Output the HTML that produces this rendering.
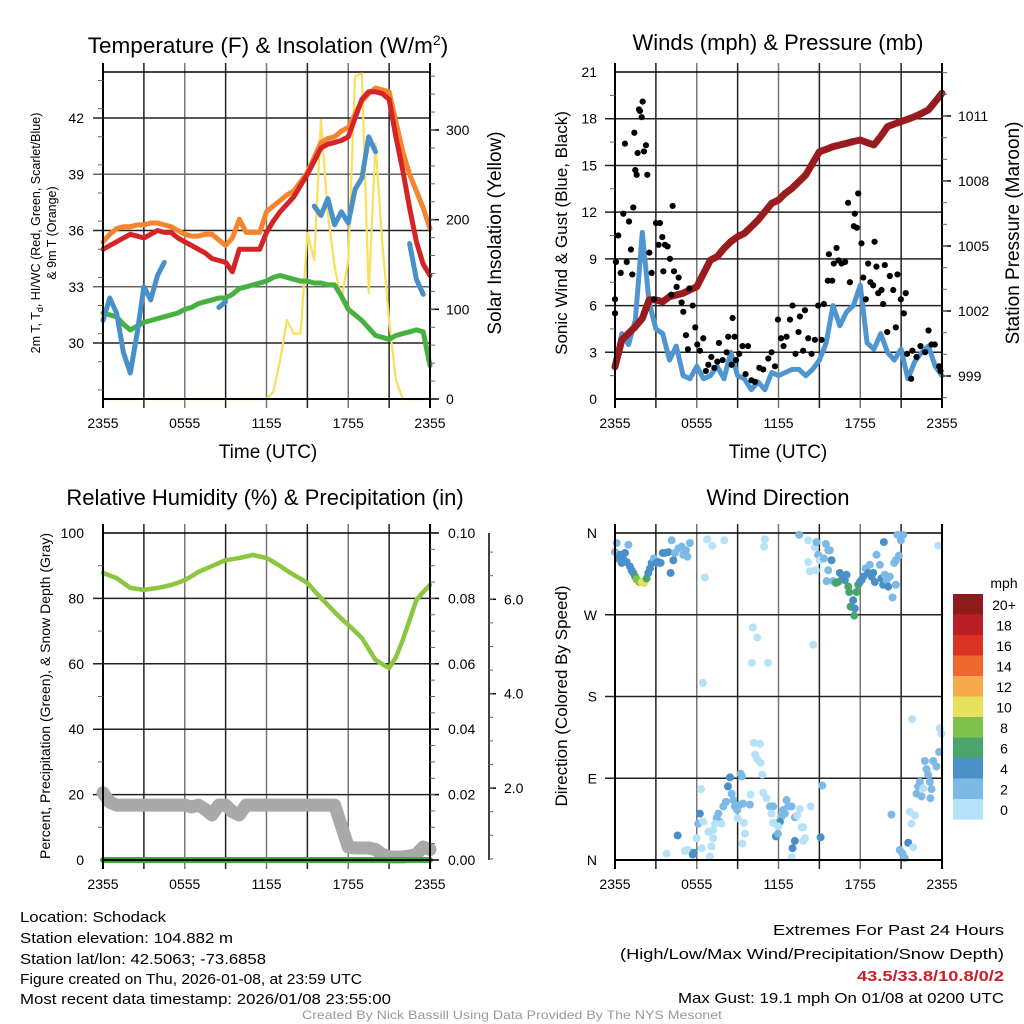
<!DOCTYPE html>
<html><head><meta charset="utf-8"><style>
html,body{margin:0;padding:0;background:#fff}
svg{display:block;font-family:"Liberation Sans",sans-serif}
</style></head><body>
<svg id="c" width="1024" height="1024" viewBox="0 0 1024 1024" xmlns="http://www.w3.org/2000/svg">
<rect width="1024" height="1024" fill="#fff"/>
<g id="grid"></g><g id="marks"></g><g id="axes"></g>
<text x="268" y="53" font-size="22.5" text-anchor="middle">Temperature (F) &amp; Insolation (W/m<tspan dy="-8" font-size="14">2</tspan><tspan dy="8">)</tspan></text>
<text x="778" y="50" font-size="22" text-anchor="middle">Winds (mph) &amp; Pressure (mb)</text>
<text x="265" y="505" font-size="22" text-anchor="middle">Relative Humidity (%) &amp; Precipitation (in)</text>
<text x="778" y="505" font-size="22" text-anchor="middle">Wind Direction</text>
<text x="268" y="458" font-size="19" text-anchor="middle">Time (UTC)</text>
<text x="778" y="458" font-size="19" text-anchor="middle">Time (UTC)</text>
<text transform="translate(40,233) rotate(-90)" font-size="12.5" text-anchor="middle">2m T, T<tspan dy="3" font-size="9">d</tspan><tspan dy="-3">, HI/WC (Red, Green, Scarlet/Blue)</tspan></text>
<text transform="translate(56,233) rotate(-90)" font-size="12.5" text-anchor="middle">&amp; 9m T (Orange)</text>
<text transform="translate(501,233) rotate(-90)" font-size="19" text-anchor="middle">Solar Insolation (Yellow)</text>
<text transform="translate(567,233) rotate(-90)" font-size="17" text-anchor="middle">Sonic Wind &amp; Gust (Blue, Black)</text>
<text transform="translate(1019,233) rotate(-90)" font-size="19" text-anchor="middle">Station Pressure (Maroon)</text>
<text transform="translate(50,696) rotate(-90)" font-size="14" text-anchor="middle">Percent, Precipitation (Green), &amp; Snow Depth (Gray)</text>
<text transform="translate(567,696) rotate(-90)" font-size="17" text-anchor="middle">Direction (Colored By Speed)</text>
<g font-size="15">
<text x="20" y="922" textLength="146" lengthAdjust="spacingAndGlyphs">Location: Schodack</text>
<text x="20" y="943" textLength="213" lengthAdjust="spacingAndGlyphs">Station elevation: 104.882 m</text>
<text x="20" y="964" textLength="246" lengthAdjust="spacingAndGlyphs">Station lat/lon: 42.5063; -73.6858</text>
<text x="20" y="984" textLength="342" lengthAdjust="spacingAndGlyphs">Figure created on Thu, 2026-01-08, at 23:59 UTC</text>
<text x="20" y="1004" textLength="371" lengthAdjust="spacingAndGlyphs">Most recent data timestamp: 2026/01/08 23:55:00</text>
</g>
<g font-size="15">
<text x="773" y="935" textLength="231" lengthAdjust="spacingAndGlyphs">Extremes For Past 24 Hours</text>
<text x="620" y="959" textLength="384" lengthAdjust="spacingAndGlyphs">(High/Low/Max Wind/Precipitation/Snow Depth)</text>
<text x="857" y="981" textLength="147" lengthAdjust="spacingAndGlyphs" fill="#c8202a" font-weight="bold">43.5/33.8/10.8/0/2</text>
<text x="678" y="1003" textLength="326" lengthAdjust="spacingAndGlyphs">Max Gust: 19.1 mph On 01/08 at 0200 UTC</text>
</g>
<text x="302" y="1019" font-size="12" fill="#999" textLength="420" lengthAdjust="spacingAndGlyphs">Created By Nick Bassill Using Data Provided By The NYS Mesonet</text>
<g id="legend"></g>
</svg>
<script>
// ---------- data (half-hourly, t = 0..24 h from 2355 UTC) ----------
const xTickLabels = ["2355","0555","1155","1755","2355"];
const temp2m = [35.0,35.2,35.4,35.6,35.8,35.7,35.6,35.8,36.0,35.9,35.9,35.6,35.4,35.2,35.0,34.8,34.5,34.4,34.3,33.8,35.0,35.0,35.0,35.0,35.9,36.5,37.0,37.4,37.8,38.4,39.0,39.7,40.4,40.6,40.7,40.8,41.0,42.0,43.0,43.4,43.4,43.3,43.0,41.0,39.2,37.2,35.4,34.2,33.6];
const temp9m = [35.4,35.8,36.1,36.2,36.2,36.3,36.3,36.4,36.4,36.3,36.2,36.0,35.8,35.7,35.7,35.8,35.8,35.5,35.2,35.6,36.6,35.9,35.9,35.9,37.0,37.3,37.6,37.9,38.1,38.6,39.1,39.9,40.7,40.9,41.0,41.3,41.5,42.2,42.9,43.3,43.6,43.5,43.4,41.8,40.2,39.0,38.1,37.2,36.1];
const dewpoint = [31.6,31.5,31.4,31.0,30.7,30.9,31.1,31.2,31.3,31.4,31.5,31.6,31.8,31.9,32.1,32.2,32.3,32.4,32.4,32.6,32.9,33.0,33.1,33.2,33.3,33.5,33.6,33.5,33.4,33.3,33.3,33.2,33.2,33.1,33.1,32.5,31.8,31.5,31.2,30.8,30.4,30.3,30.2,30.4,30.5,30.6,30.7,30.6,28.8];
const windChill = [31.2,32.4,31.6,29.5,28.4,30.5,33.0,32.3,33.6,34.3,null,null,null,null,null,null,null,31.9,32.2,null,null,null,null,null,null,null,null,null,null,null,null,37.3,36.8,37.7,36.3,37.0,36.4,38.2,38.8,41.0,40.2,null,null,null,null,35.3,33.4,32.6,null];
const solar = [0,0,0,0,0,0,0,0,0,0,0,0,0,0,0,0,0,0,0,0,0,0,0,0,0,8,43,88,73,73,185,155,311,207,148,110,155,360,363,118,285,174,88,21,0,0,0,0,0];
const windSpeed = [2.1,4.2,3.5,5.1,10.7,6.2,4.5,4.2,2.5,3.4,1.5,1.3,2.1,1.3,1.5,2.1,1.3,3.0,1.5,1.3,0.6,1.1,0.6,1.7,1.5,1.7,1.9,1.9,1.5,1.9,2.5,3.6,6.0,4.7,5.6,6.0,7.3,3.6,3.2,4.2,3.0,2.5,3.2,1.3,2.4,3.0,3.4,2.1,1.5];
const pressure = [999.43,1000.66,1000.97,1001.28,1001.66,1002.51,1002.51,1002.43,1002.66,1002.74,1002.82,1002.97,1003.12,1003.74,1004.35,1004.51,1004.89,1005.2,1005.43,1005.58,1005.89,1006.2,1006.58,1006.97,1007.12,1007.43,1007.66,1007.97,1008.28,1008.82,1009.35,1009.46,1009.58,1009.66,1009.74,1009.82,1009.89,1009.77,1009.66,1010.05,1010.51,1010.63,1010.74,1010.85,1010.97,1011.12,1011.28,1011.66,1012.05];
const gustTimes = [0,0,0.07,0.24,0.42,0.61,0.73,0.86,1.03,1.17,1.27,1.34,1.42,1.49,1.59,1.66,1.76,1.83,1.96,2.03,2.13,2.27,2.37,2.52,2.69,2.86,3.01,3.2,3.3,3.47,3.55,3.67,3.86,4.03,4.13,4.23,4.33,4.52,4.67,4.89,5.01,5.21,5.35,5.45,5.7,5.89,6.04,6.23,6.48,6.67,6.85,7.07,7.29,7.51,7.63,7.9,8.19,8.31,8.56,8.63,8.78,8.88,9.12,9.36,9.58,9.76,10.02,10.27,10.59,10.88,11.25,11.49,11.74,11.96,12.18,12.37,12.59,12.84,13.03,13.25,13.47,13.57,13.81,13.94,14.18,14.43,14.67,14.91,15.16,15.33,15.62,15.7,15.94,16.06,16.26,16.41,16.63,16.89,17.11,17.24,17.53,17.6,17.75,17.85,18.09,18.22,18.41,18.58,18.75,18.95,19.05,19.19,19.32,19.56,19.68,19.8,19.98,20.17,20.42,20.61,20.73,20.98,21.2,21.34,21.44,21.74,21.83,22.13,22.42,22.76,23.01,23.23,23.47,23.79,23.89];
const gustValues = [6.4,5.5,8.8,10.5,8.1,11.9,16.4,8.8,11.4,9.6,8.0,12.3,17.1,14.7,14.4,15.8,18.6,18.5,18.1,19.1,15.9,16.3,14.4,9.4,8.1,6.4,11.3,9.9,11.3,10.4,8.2,9.9,9.8,9.0,6.7,12.4,8.2,7.2,7.8,6.2,5.6,4.1,3.2,7.1,6.0,4.6,3.5,3.1,3.9,1.8,2.2,2.7,2.0,2.4,3.6,2.5,3.0,4.0,2.2,5.2,4.0,2.5,2.9,3.4,1.6,3.4,1.2,1.1,2.0,1.9,2.6,3.0,2.1,5.1,3.9,3.4,4.0,5.1,6.0,2.9,4.3,5.3,3.1,5.7,3.9,2.9,3.8,6.0,3.8,6.1,7.6,9.3,7.6,8.7,9.7,8.9,8.7,8.8,12.6,7.5,11.1,11.9,11.0,13.2,10.0,7.8,6.4,8.7,7.5,7.3,10.1,8.5,6.8,7.0,6.1,8.6,4.3,7.9,7.0,4.6,8.0,6.4,5.5,6.8,2.9,1.3,3.1,2.7,3.4,3.0,4.4,3.5,3.5,2.1,1.8];
const relHumidity = [87.8,87.0,86.2,84.7,83.2,82.9,82.6,82.9,83.2,83.6,84.1,84.8,85.6,86.8,88.1,89.0,89.9,90.8,91.7,92.0,92.4,92.8,93.3,92.8,92.4,91.2,89.9,88.5,87.2,86.0,84.7,82.4,80.1,78.0,75.8,73.8,71.9,69.9,67.9,64.5,61.2,59.9,58.7,62.0,67.3,73.4,79.5,82.0,84.1];
const precip = [0,0,0,0,0,0,0,0,0,0,0,0,0,0,0,0,0,0,0,0,0,0,0,0,0,0,0,0,0,0,0,0,0,0,0,0,0,0,0,0,0,0,0,0,0,0,0,0,0];
const snowDepth = [1.9,1.7,1.64,1.64,1.64,1.64,1.64,1.64,1.64,1.64,1.64,1.64,1.64,1.6,1.64,1.55,1.43,1.64,1.64,1.5,1.43,1.64,1.64,1.64,1.64,1.64,1.64,1.64,1.64,1.64,1.64,1.64,1.64,1.64,1.64,1.2,0.75,0.73,0.73,0.73,0.7,0.6,0.54,0.54,0.54,0.56,0.6,0.75,0.7];
const dirTimes = [0,0.12,0.24,0.37,0.49,0.61,0.73,0.86,0.98,1.1,1.22,1.34,1.47,1.59,1.78,1.96,2.13,2.32,2.44,2.57,2.69,2.86,3.01,3.18,3.35,3.5,3.67,3.91,4.08,4.16,4.28,4.4,4.65,4.89,5.01,5.21,5.31,5.5,6.77,6.6,7.14,8.02,11.0,10.95,13.52,14.18,14.18,14.3,14.67,14.74,14.79,14.91,15.04,15.48,15.65,15.77,15.33,15.89,15.65,15.53,16.01,16.21,16.38,16.5,16.7,16.87,16.99,17.12,17.19,17.29,17.48,17.6,17.56,17.73,17.85,17.97,18.09,18.22,18.39,18.58,18.7,18.83,18.95,19.07,19.19,19.44,19.56,19.68,19.8,19.73,19.93,20.05,20.17,20.37,20.49,20.61,20.61,20.73,20.83,20.98,21.15,23.72,10.12,10.44,10.05,11.22,14.55,6.45,21.81,23.84,23.96,23.79,23.35,23.59,22.74,22.86,22.98,23.11,22.37,22.25,22.13,22.49,23.23,23.15,22.62,21.64,22.01,21.76,20.29,21.52,21.88,20.9,21.1,21.27,10.2,10.64,10.29,10.44,10.68,10.81,9.22,9.32,8.44,8.29,6.31,8.56,8.68,8.8,8.97,9.17,9.41,9.9,9.95,10.88,11.12,11.37,11.61,11.49,7.95,8.14,7.58,7.46,7.7,7.34,7.82,7.21,6.23,6.11,6.48,6.85,9.0,9.46,9.54,12.59,12.71,12.96,13.57,14.35,15.21,12.35,12.23,12.47,12.1,11.98,11.61,11.81,11.96,13.2,13.37,13.81,13.69,13.94,13.81,13.2,13.03,12.96,15.09,4.6,3.79,5.13,5.38,5.79,5.7,5.99,7.21,6.36,7.09,6.97,9.36];
const dirValues = [339,349,332,336,327,331,338,328,347,323,319,316,312,309,306,306,305,310,316,321,327,332,327,328,327,338,338,339,316,352,330,338,343,345,336,341,334,349,353,311,346,352,353,345,358,352,328,318,344,319,350,336,330,348,341,341,332,330,319,307,307,305,306,316,312,308,314,301,295,279,286,277,269,295,303,306,308,312,321,316,325,312,316,306,336,325,310,303,314,350,308,301,312,289,327,330,303,358,335,352,358,346,256,245,217,217,237,195,155,145,139,119,109,103,109,100,94,86,86,81,73,70,78,68,79,53,49,40,50,19,14,11,7,2,129,128,116,111,107,94,95,92,91,81,78,73,66,59,55,61,62,61,72,74,68,59,59,51,59,64,51,46,42,40,40,33,51,40,42,31,46,41,29,66,59,59,56,59,82,55,48,51,42,37,41,26,29,47,49,36,36,24,21,21,13,3,25,27,7,10,11,8,6,24,24,13,15,4,18];
const dirSpeeds = [3,3,5,5,5,5,5,5,3,5,5,5,7,9,9,11,11,7,5,5,5,3,5,5,5,5,5,5,5,3,5,3,3,3,3,3,3,3,1,1,1,1,1,1,3,1,1,1,1,1,3,3,1,3,3,3,3,5,3,3,3,7,7,5,5,5,5,7,7,7,5,5,7,7,7,5,5,5,3,5,3,5,5,5,3,3,5,5,3,5,3,5,3,3,3,3,3,3,3,3,3,1,1,1,1,1,1,1,1,1,1,3,3,3,3,3,3,3,3,3,3,3,3,3,1,1,1,1,3,5,1,3,3,3,1,1,1,1,1,1,3,3,5,5,1,3,3,3,3,3,3,3,1,1,1,3,3,1,3,3,3,3,3,1,1,1,5,3,1,1,1,1,1,3,3,3,1,1,3,3,3,3,5,1,1,5,3,3,1,1,1,1,1,5,5,1,5,5,1,1,1,5,5,1,1,1,1,1,1,1];
const legendLabels = ["20+","18","16","14","12","10","8","6","4","2","0"];
const legendColors = ["#8f1a1c","#bb1f26","#dc3327","#ee6630","#f5a94a","#e6e05a","#7dc24a","#4aa56b","#4a90c8","#7db9e5","#b5e2f8"];

// ---------- geometry ----------
const NS="http://www.w3.org/2000/svg";
const G=document.getElementById('grid'),M=document.getElementById('marks'),A=document.getElementById('axes');
function el(tag,attrs,parent){const e=document.createElementNS(NS,tag);for(const k in attrs)e.setAttribute(k,attrs[k]);(parent||M).appendChild(e);return e;}
const P1={x0:103,x1:430}, P2={x0:615,x1:942};
const xT=(p,t)=>p.x0+(p.x1-p.x0)*t/24;
const yTemp=v=>118+(42-v)*18.75;
const ySolar=v=>399-v*0.8967;
const yWind=v=>399-v*15.57;
const yPres=v=>376-(v-999)*21.67;
const yPct=v=>860-v*3.27;
const yPrecip=v=>860-v*3270;
const ySnow=v=>882.5-v*47.2;
const yDir=v=>860-v/360*327;
const hT=i=>i*0.5;

function series(p,arr,yf,color,w,name){
  let seg=[];const segs=[];
  arr.forEach((v,i)=>{if(v===null){if(seg.length)segs.push(seg);seg=[];}else seg.push(xT(p,hT(i)).toFixed(1)+','+yf(v).toFixed(1));});
  if(seg.length)segs.push(seg);
  segs.forEach(s=>{
    const pl=el('polyline',{points:s.join(' '),fill:'none',stroke:color,'stroke-width':w,'stroke-linejoin':'round','stroke-linecap':'round'});
    
    
  });
}
function hline(x0,x1,y,c,w,par){el('line',{x1:x0,x2:x1,y1:y,y2:y,stroke:c,'stroke-width':w},par);}
function vline(x,y0,y1,c,w,par){el('line',{x1:x,x2:x,y1:y0,y2:y1,stroke:c,'stroke-width':w},par);}
function txt(x,y,s,anchor,size,par){const t=el('text',{x:x,y:y,'text-anchor':anchor,'font-size':size},par||A);t.textContent=s;return t;}

function frame(p,top,bot){
  for(let h=3;h<24;h+=3){vline(xT(p,h),top-9,bot+9,(h%6==0)?'#777':'#222',1.5,G);}
  vline(p.x0,top-9,bot+9,'#000',2,A);vline(p.x1,top-9,bot+9,'#000',2,A);
  hline(p.x0,p.x1,top,'#000',1.5,G);hline(p.x0,p.x1,bot,'#000',2,A);
  xTickLabels.forEach((s,i)=>{const l=txt(xT(p,i*6),bot+29,s,'middle',14);
    
    });
}
// Panel 1
frame(P1,72,399);
[30,33,36,39,42].forEach(v=>{hline(93,P1.x1,yTemp(v),(v%2==0)?'#222':'#666',1.5,G);txt(84,yTemp(v)+5,String(v),'end',14);});
for(let v=27.5;v<=44;v+=1.5){hline(98,103,yTemp(v),'#666',1,A);}
[0,100,200,300].forEach(v=>{hline(P1.x1,P1.x1+9,ySolar(v),'#000',1.5,A);txt(446,ySolar(v)+5,String(v),'start',14);});
for(let v=20;v<370;v+=20){hline(P1.x1,P1.x1+5,ySolar(v),'#666',1,A);}
series(P1,solar,ySolar,'#f7e05a',2.2,'solar-insolation-line');
series(P1,dewpoint,yTemp,'#46b040',5,'dewpoint-line');
series(P1,temp9m,yTemp,'#f5842e',5,'temp-9m-line');
series(P1,temp2m,yTemp,'#d42428',5,'temp-2m-line');
series(P1,windChill,yTemp,'#4a90c8',5,'wind-chill-line');

// Panel 2
frame(P2,72,399);
for(let v=0;v<=21;v+=3){if(v>0&&v<21)hline(605,P2.x1,yWind(v),'#222',1.5,G);txt(597,yWind(v)+5,String(v),'end',14);}
for(let v=1.5;v<21;v+=3){hline(610,615,yWind(v),'#666',1,A);}
[999,1002,1005,1008,1011].forEach(v=>{hline(P2.x1,P2.x1+9,yPres(v),'#000',1.5,A);txt(958,yPres(v)+5,String(v),'start',14);});
for(let v=998;v<=1013;v++){if(yPres(v)>72&&yPres(v)<399)hline(P2.x1,P2.x1+5,yPres(v),'#666',1,A);}
series(P2,windSpeed,yWind,'#4f96d0',5,'sonic-wind-line');
series(P2,pressure,yPres,'#9a1b1e',7,'pressure-line');
gustTimes.forEach((t,i)=>{const c=el('circle',{cx:xT(P2,t),cy:yWind(gustValues[i]),r:3.1,fill:'#000'});
  
  });

// Panel 3
frame(P1,533,860);
[0,20,40,60,80,100].forEach(v=>{if(v>0&&v<100)hline(93,P1.x1,yPct(v),'#222',1.5,G);txt(84,yPct(v)+5,String(v),'end',14);});
for(let v=10;v<100;v+=20){hline(98,103,yPct(v),'#666',1,A);}
[0,0.02,0.04,0.06,0.08,0.10].forEach(v=>{hline(P1.x1,P1.x1+9,yPrecip(v),'#000',1.5,A);txt(448,yPrecip(v)+5,v.toFixed(2),'start',14);});
for(let v=0.005;v<0.1;v+=0.005){hline(P1.x1,P1.x1+5,yPrecip(v),'#666',1,A);}
vline(489,533,860,'#000',1.5,A);
[2,4,6].forEach(v=>{hline(489,496,ySnow(v),'#000',1.5,A);txt(504,ySnow(v)+5,v.toFixed(1),'start',14);});
for(let v=0.5;v<7.5;v+=0.5){if(ySnow(v)<860)hline(489,493,ySnow(v),'#666',1,A);}
series(P1,snowDepth,ySnow,'#a9a9a9',13,'snow-depth-line');
series(P1,precip,yPrecip,'#3aa83a',6,'precip-line');
series(P1,relHumidity,yPct,'#8cc63f',4.5,'humidity-line');

// Panel 4
frame(P2,533,860);
[90,180,270].forEach(v=>{hline(605,P2.x1,yDir(v),'#222',1.5,G);});
[["N",360],["W",270],["S",180],["E",90],["N",0]].forEach(a=>{txt(597,yDir(a[1])+5,a[0],'end',14);});
function speedColor(s){const idx=Math.min(10,Math.floor(s/2));return legendColors[10-idx];}
dirTimes.forEach((t,i)=>{const c=el('circle',{cx:xT(P2,t),cy:yDir(dirValues[i]),r:4,fill:speedColor(dirSpeeds[i])});
  
  });

// legend
const L=document.getElementById('legend');
const lt=txt(1004,588,'mph','middle',14,L);


legendLabels.forEach((s,i)=>{const y=594+i*20.5;
  const r=el('rect',{x:953,y:y,width:30,height:20.6,fill:legendColors[i]},L);
  
  
  const t=txt(1004,y+16,s,'middle',14,L);
  
  });
</script>
</body></html>
